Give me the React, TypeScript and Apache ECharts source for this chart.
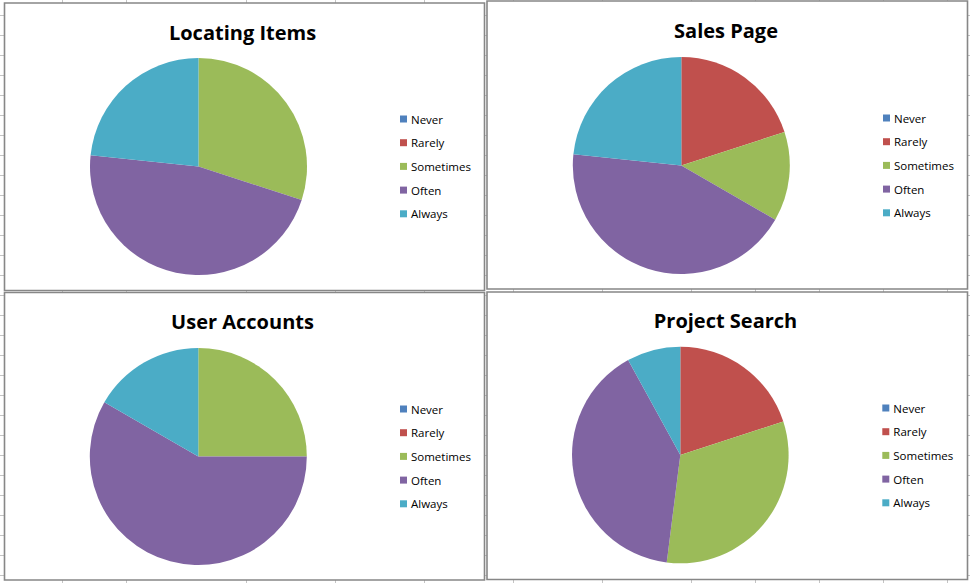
import React, { useEffect, useRef } from "react";
import * as echarts from "echarts";

const categories = ["Never", "Rarely", "Sometimes", "Often", "Always"];
const locatingItems = [0, 0, 9, 14, 7];
const salesPage = [0, 6, 4, 13, 7];
const userAccounts = [0, 0, 6, 14, 4];
const projectSearch = [0, 5, 8, 10, 2];
const chartTitles = ["Locating Items", "Sales Page", "User Accounts", "Project Search"];
const seriesValues = [locatingItems, salesPage, userAccounts, projectSearch];

const palette = ["#4F81BD", "#C0504D", "#9BBB59", "#8064A2", "#4BACC6"];
const TITLE_FONT = "'Open Sans', Carlito, Calibri, sans-serif";
const LEGEND_FONT = "'Open Sans', Carlito, Calibri, sans-serif";

// layout per panel
const panels = [
  { box: [4.5, 3, 484.5, 290.5], center: [198.5, 166.5], r: 108.5, titleX: 242.5, titleY: 22, legendX: 400, legendY: 113 },
  { box: [487, 1, 967.5, 289], center: [681.3, 165.5], r: 108.5, titleX: 726, titleY: 20.5, legendX: 883, legendY: 112 },
  { box: [4.5, 292.5, 484.5, 580], center: [198.3, 456.5], r: 108.5, titleX: 242.5, titleY: 311, legendX: 400, legendY: 403 },
  { box: [487, 292, 967.5, 579.5], center: [680.3, 455], r: 108.3, titleX: 725.5, titleY: 310.5, legendX: 882.3, legendY: 402 },
];

const gridRowsY: number[] = [];
for (let y = 15.5; y < 583; y += 20) gridRowsY.push(y);
const gridColsLeft = [62.5, 126.5, 246.5, 335.5, 424.5];
const gridColsRight = [513.5, 602.5, 691.5, 755.5, 819.5, 883.5, 947.5];

export default function App() {
  const ref = useRef<HTMLDivElement>(null);
  useEffect(() => {
    if (!ref.current) return;
    const chart = echarts.init(ref.current, undefined, { renderer: "svg" });

    const graphics: any[] = [];
    const gridStyle = { stroke: "#c4c4c4", lineWidth: 1 };
    gridRowsY.forEach((y) =>
      graphics.push({ type: "line", z: 0, shape: { x1: 0, y1: y, x2: 970, y2: y }, style: gridStyle, silent: true })
    );
    gridColsLeft.forEach((x) =>
      graphics.push({ type: "line", z: 0, shape: { x1: x, y1: 0, x2: x, y2: 583 }, style: gridStyle, silent: true })
    );
    gridColsRight.forEach((x) =>
      graphics.push({ type: "line", z: 0, shape: { x1: x, y1: 0, x2: x, y2: 583 }, style: gridStyle, silent: true })
    );
    panels.forEach((p) => {
      const [x1, y1, x2, y2] = p.box;
      graphics.push({
        type: "rect",
        z: 1,
        shape: { x: x1, y: y1, width: x2 - x1, height: y2 - y1 },
        style: { fill: "#ffffff", stroke: "#878787", lineWidth: 1.6 },
        silent: true,
      });
    });

    const option: any = {
      animation: false,
      backgroundColor: "#ffffff",
      graphic: { elements: graphics },
      title: panels.map((p, i) => ({
        text: chartTitles[i],
        left: p.titleX,
        top: p.titleY,
        textAlign: "center",
        padding: 0,
        textStyle: { fontFamily: TITLE_FONT, fontWeight: "bold", fontSize: 20, lineHeight: 20, color: "#000000" },
      })),
      legend: panels.map((p) => ({
        orient: "vertical",
        left: p.legendX,
        top: p.legendY,
        padding: 0,
        itemWidth: 7,
        itemHeight: 7,
        itemGap: 11.7,
        icon: "rect",
        selectedMode: false,
        data: categories,
        textStyle: { fontFamily: LEGEND_FONT, fontSize: 11.5, lineHeight: 12, color: "#000000", padding: [0, 0, 0, -1] },
      })),
      series: panels.map((p, i) => ({
        type: "pie",
        name: chartTitles[i],
        center: p.center,
        radius: p.r,
        startAngle: 90,
        clockwise: true,
        label: { show: false },
        labelLine: { show: false },
        emphasis: { disabled: true },
        silent: true,
        itemStyle: { borderWidth: 0 },
        data: categories.map((c, k) => ({
          name: c,
          value: seriesValues[i][k],
          itemStyle: { color: palette[k] },
        })),
      })),
    };
    chart.setOption(option);
    return () => chart.dispose();
  }, []);
  return (
    <div
      ref={ref}
      style={{ position: "fixed", left: 0, top: 0, width: 970, height: 583 }}
    />
  );
}
